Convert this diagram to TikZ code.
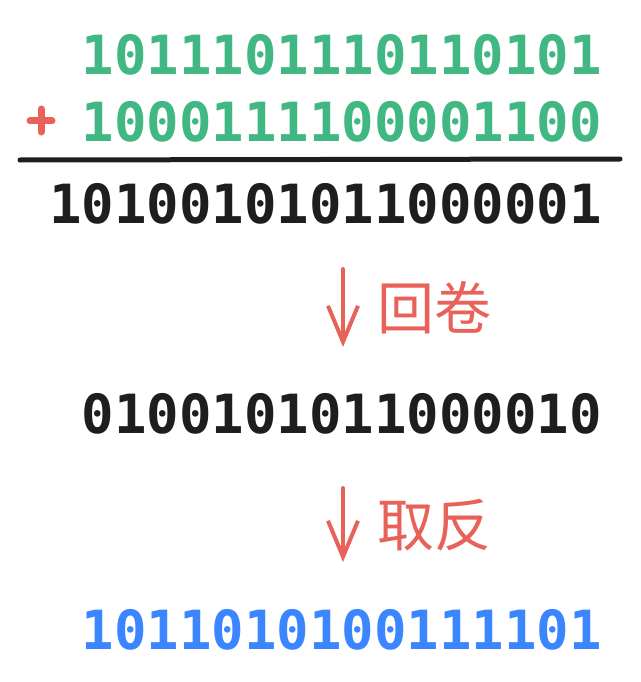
\documentclass[tikz,border=0pt]{standalone}
\usepackage{fontspec}
\setmonofont{DejaVu Sans Mono}
\newfontfamily\cjkfont{Noto Sans CJK SC}
\usetikzlibrary{arrows.meta, positioning}
\definecolor{addgreen}{HTML}{41B883}
\definecolor{markred}{HTML}{E8625A}
\definecolor{resblue}{HTML}{3B86FF}
\definecolor{inkblack}{HTML}{1E1E1E}

\begin{document}
\begin{tikzpicture}[x=1pt, y=-1pt,
    % Define the style of the binary numbers
    bits/.style={inner sep=0pt, anchor=base east, font=\fontsize{54}{54}\selectfont\ttfamily\bfseries},
    % Define the style of the step labels
    steplabel/.style={inner sep=0pt, anchor=west, text=markred, font=\fontsize{57}{57}\selectfont\cjkfont},
    % Define the style of the step arrows
    steparrow/.style={draw=markred, line width=4pt, line cap=round, -{Straight Barb[length=36pt, width=30pt, line width=4pt]}},
    % Define the style of the sum rule
    rule/.style={draw=inkblack, line width=5pt, line cap=round}
  ]
  \useasboundingbox (0,0) rectangle (640,682);

  % Addition
  \node[bits, text=addgreen] (rowa) at (602,75) {1011101110110101};
  \node[bits, text=addgreen] (rowb) at (602,141) {1000111100001100};
  \coordinate (plusc) at (41,121);
  \draw[markred, line width=7pt, line cap=round] ([xshift=-11pt]plusc) -- ([xshift=11pt]plusc);
  \draw[markred, line width=7pt, line cap=round] ([yshift=-11pt]plusc) -- ([yshift=12pt]plusc);
  \coordinate (rulel) at (20,160);
  \coordinate (ruler) at (620,159);
  \draw[rule] (rulel) -- (ruler);
  \node[bits, text=inkblack] (sum) at (602,223) {10100101011000001};

  % Wrap around
  \coordinate (wraptop) at (343,269);
  \coordinate (wrapbot) at (343,347);
  \draw[steparrow] (wraptop) -- (wrapbot);
  \node[steplabel] (wraplabel) at (377,308) {回卷};
  \node[bits, text=inkblack] (wrapped) at (602,433) {0100101011000010};

  % Invert
  \coordinate (invtop) at (343,488);
  \coordinate (invbot) at (343,562);
  \draw[steparrow] (invtop) -- (invbot);
  \node[steplabel] (invlabel) at (377,525) {取反};
  \node[bits, text=resblue] (result) at (602,649) {1011010100111101};
\end{tikzpicture}
\end{document}
